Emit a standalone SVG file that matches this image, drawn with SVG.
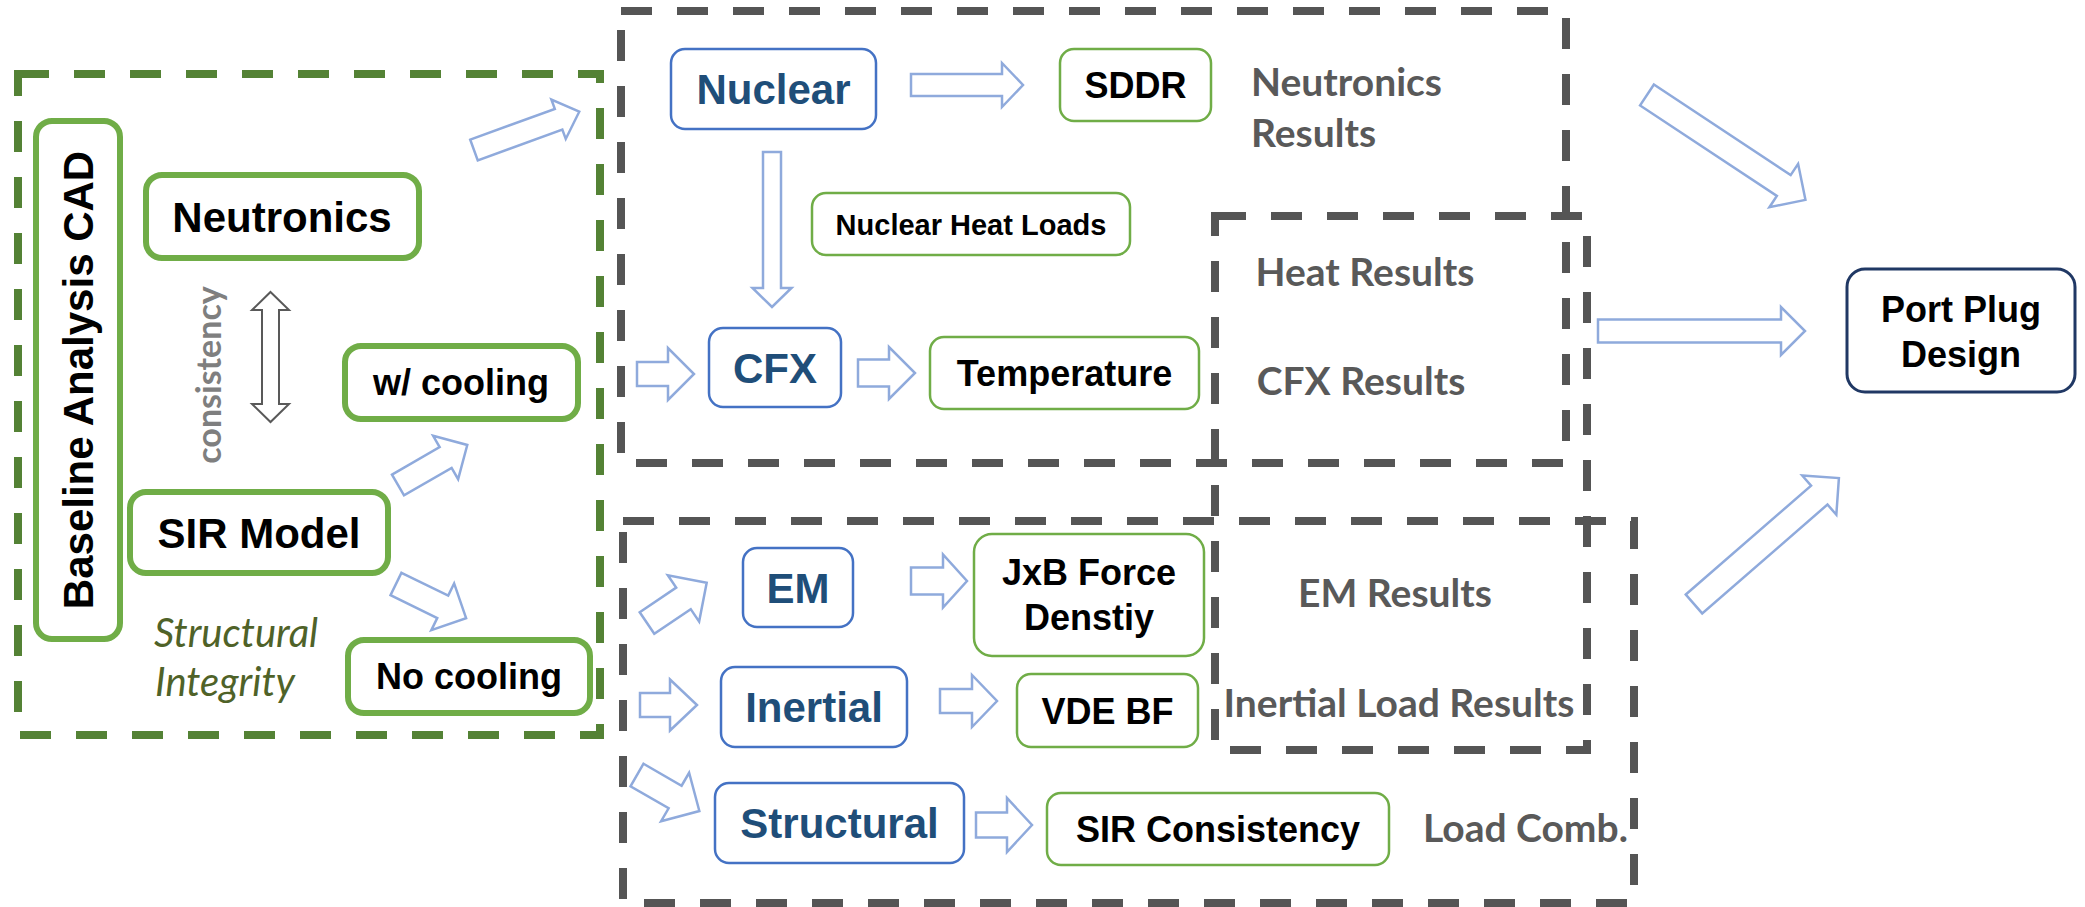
<svg xmlns="http://www.w3.org/2000/svg" width="2085" height="907" viewBox="0 0 2085 907">
<style>
.dg{fill:none;stroke:#548235;stroke-width:8;stroke-dasharray:31 25}
.dk{fill:none;stroke:#555555;stroke-width:8;stroke-dasharray:31 25}
.gthick{fill:#fff;stroke:#70ad47;stroke-width:6}
.gthin{fill:#fff;stroke:#70ad47;stroke-width:2.5}
.blue{fill:#fff;stroke:#4472c4;stroke-width:2.5}
.navy{fill:#fff;stroke:#203864;stroke-width:3}
.arr{fill:#fff;stroke:#8faadc;stroke-width:2.5}
.dbl{fill:#fff;stroke:#595959;stroke-width:2}
.t{font-family:"Liberation Sans",Arial,sans-serif;font-weight:bold;text-anchor:middle}
.tb{fill:#1f4e79}
.tk{fill:#000}
.gr{font-family:Lato,"Open Sans",sans-serif;font-weight:700;fill:#595959}
.it{font-family:Lato,"Open Sans",sans-serif;font-style:italic;fill:#4f6228}
</style>
<rect width="2085" height="907" fill="#fff"/>
<g id="containers">
  <rect id="c-structural" class="dg" x="18" y="74" width="582" height="661"/>
  <rect id="c-neutronics" class="dk" x="621" y="11" width="945" height="452"/>
  <rect id="c-results" class="dk" x="1215" y="216" width="372" height="534"/>
  <rect id="c-loads" class="dk" x="623" y="521" width="1011" height="382"/>
</g>
<g id="connectors">
  <path class="arr" d="M911,74 L1002,74 L1002,63 L1023,85 L1002,107 L1002,96 L911,96 Z"/>
  <path class="arr" d="M763,152 L781,152 L781,288 L791.5,288 L772,307 L752.5,288 L763,288 Z"/>
  <path class="arr" d="M637,362 L668,362 L668,348 L694,374 L668,400 L668,386 L637,386 Z"/>
  <path class="arr" d="M858,359.5 L889,359.5 L889,347 L915,373 L889,399 L889,386.5 L858,386.5 Z"/>
  <path class="arr" d="M911,567.5 L943,567.5 L943,554.5 L967,581 L943,607.5 L943,594.5 L911,594.5 Z"/>
  <path class="arr" d="M640,693 L670,693 L670,679.5 L697,705 L670,730.5 L670,717 L640,717 Z"/>
  <path class="arr" d="M940,689 L972,689 L972,675 L997,701 L972,727 L972,713 L940,713 Z"/>
  <path class="arr" d="M976,812.5 L1007,812.5 L1007,798 L1032,825 L1007,852 L1007,837.5 L976,837.5 Z"/>
  <path class="arr" d="M1598,319.5 L1781,319.5 L1781,307 L1805,331 L1781,355 L1781,342.5 L1598,342.5 Z"/>
  <path class="arr" transform="translate(474,150) rotate(-20)" d="M0,-11 L90,-11 L90,-21 L112,0 L90,21 L90,11 L0,11 Z"/>
  <path class="arr" transform="translate(398,485) rotate(-30)" d="M0,-12 L55,-12 L55,-25 L80,0 L55,25 L55,12 L0,12 Z"/>
  <path class="arr" transform="translate(396,584) rotate(26)" d="M0,-12.5 L52,-12.5 L52,-26 L78,0 L52,26 L52,12.5 L0,12.5 Z"/>
  <path class="arr" transform="translate(647,623) rotate(-34)" d="M0,-13 L44,-13 L44,-28 L72,0 L44,28 L44,13 L0,13 Z"/>
  <path class="arr" transform="translate(637,775) rotate(30)" d="M0,-13 L44,-13 L44,-28 L72,0 L44,28 L44,13 L0,13 Z"/>
  <path class="arr" transform="translate(1647,95) rotate(33.5)" d="M0,-12.5 L164,-12.5 L164,-26 L190,0 L164,26 L164,12.5 L0,12.5 Z"/>
  <path class="arr" transform="translate(1694,604) rotate(-41)" d="M0,-12.5 L166,-12.5 L166,-26 L192,0 L166,26 L166,12.5 L0,12.5 Z"/>
  <path class="dbl" d="M270.5,292 L289,310 L279,310 L279,404 L289,404 L270.5,422 L252,404 L262,404 L262,310 L252,310 Z"/>
  <text class="gr" transform="translate(221,375) rotate(-90)" font-size="34" text-anchor="middle" fill="#7f7f7f" style="fill:#7f7f7f">consistency</text>
</g>
<g id="n-baseline">
  <rect class="gthick" x="36" y="121" width="84" height="518" rx="16"/>
  <text class="t tk" transform="translate(93,380) rotate(-90)" font-size="42">Baseline Analysis CAD</text>
</g>
<g id="n-neutronics">
  <rect class="gthick" x="146" y="175" width="273" height="83" rx="16"/>
  <text class="t tk" x="282" y="232" font-size="42">Neutronics</text>
</g>
<g id="n-wcooling">
  <rect class="gthick" x="345" y="346" width="233" height="73" rx="16"/>
  <text class="t tk" x="461" y="395" font-size="36">w/ cooling</text>
</g>
<g id="n-sirmodel">
  <rect class="gthick" x="130" y="492" width="258" height="81" rx="16"/>
  <text class="t tk" x="259" y="548" font-size="42">SIR Model</text>
</g>
<g id="n-nocooling">
  <rect class="gthick" x="348" y="640" width="242" height="73" rx="16"/>
  <text class="t tk" x="469" y="689" font-size="36">No cooling</text>
</g>
<g id="n-structural-integrity">
  <text class="it" x="154" y="647" font-size="40">Structural</text>
  <text class="it" x="155" y="696" font-size="40">Integrity</text>
</g>
<g id="n-nuclear">
  <rect class="blue" x="671" y="49" width="205" height="80" rx="14"/>
  <text class="t tb" x="773.5" y="104" font-size="42">Nuclear</text>
</g>
<g id="n-sddr">
  <rect class="gthin" x="1060" y="49" width="151" height="72" rx="14"/>
  <text class="t tk" x="1135.5" y="98" font-size="36">SDDR</text>
</g>
<g id="n-neutronics-results">
  <text class="gr" x="1251" y="96" font-size="39">Neutronics</text>
  <text class="gr" x="1251" y="147" font-size="39">Results</text>
</g>
<g id="n-nhl">
  <rect class="gthin" x="812" y="193" width="318" height="62" rx="14"/>
  <text class="t tk" x="971" y="234.5" font-size="29">Nuclear Heat Loads</text>
</g>
<g id="n-cfx">
  <rect class="blue" x="709" y="328" width="132" height="79" rx="14"/>
  <text class="t tb" x="775" y="382.5" font-size="42">CFX</text>
</g>
<g id="n-temperature">
  <rect class="gthin" x="930" y="337" width="269" height="72" rx="14"/>
  <text class="t tk" x="1064.5" y="386" font-size="36">Temperature</text>
</g>
<g id="n-heat-results">
  <text class="gr" x="1365" y="286" font-size="39" text-anchor="middle">Heat Results</text>
</g>
<g id="n-cfx-results">
  <text class="gr" x="1361" y="395" font-size="39" text-anchor="middle">CFX Results</text>
</g>
<g id="n-em">
  <rect class="blue" x="743" y="548" width="110" height="79" rx="14"/>
  <text class="t tb" x="798" y="602.5" font-size="42">EM</text>
</g>
<g id="n-jxb">
  <rect class="gthin" x="974" y="534" width="230" height="122" rx="18"/>
  <text class="t tk" x="1089" y="585" font-size="36">JxB Force</text>
  <text class="t tk" x="1089" y="630" font-size="36">Denstiy</text>
</g>
<g id="n-em-results">
  <text class="gr" x="1395" y="607" font-size="39" text-anchor="middle">EM Results</text>
</g>
<g id="n-inertial">
  <rect class="blue" x="721" y="667" width="186" height="80" rx="14"/>
  <text class="t tb" x="814" y="722" font-size="42">Inertial</text>
</g>
<g id="n-vde">
  <rect class="gthin" x="1017" y="674" width="181" height="73" rx="14"/>
  <text class="t tk" x="1107.5" y="723.5" font-size="36">VDE BF</text>
</g>
<g id="n-inertial-results">
  <text class="gr" x="1399" y="717" font-size="39" text-anchor="middle">Inertial Load Results</text>
</g>
<g id="n-structural">
  <rect class="blue" x="715" y="783" width="249" height="80" rx="14"/>
  <text class="t tb" x="839.5" y="838" font-size="42">Structural</text>
</g>
<g id="n-sir-consistency">
  <rect class="gthin" x="1047" y="793" width="342" height="72" rx="14"/>
  <text class="t tk" x="1218" y="842" font-size="36">SIR Consistency</text>
</g>
<g id="n-load-comb">
  <text class="gr" x="1423" y="842" font-size="39">Load Comb.</text>
</g>
<g id="n-portplug">
  <rect class="navy" x="1847" y="269" width="228" height="123" rx="18"/>
  <text class="t tk" x="1961" y="322" font-size="36">Port Plug</text>
  <text class="t tk" x="1961" y="367" font-size="36">Design</text>
</g>
</svg>
